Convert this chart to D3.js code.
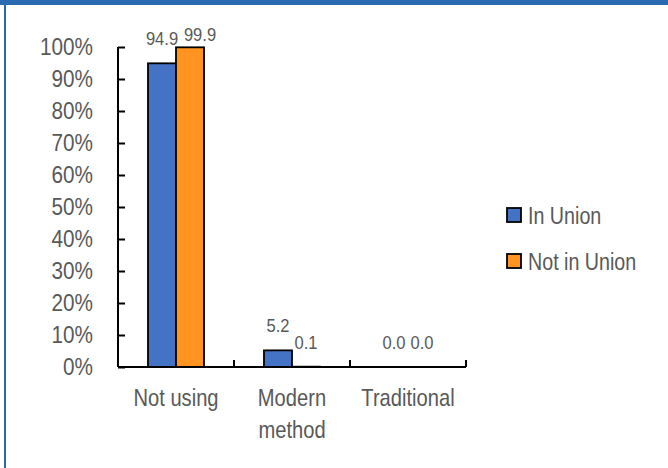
<!DOCTYPE html>
<html>
<head>
<meta charset="utf-8">
<script src="https://cdn.jsdelivr.net/npm/d3@7"></script>
<style>
  html, body { margin: 0; padding: 0; background: #fff; }
  svg { display: block; }
  text { font-family: "Liberation Sans", Arial, sans-serif; fill: #595959; }
</style>
</head>
<body>
<script>
const categories = [["Not using"], ["Modern", "method"], ["Traditional"]];
const categoryKeys = ["Not using", "Modern method", "Traditional"];
const seriesNames = ["In Union", "Not in Union"];
const inUnion = [94.9, 5.2, 0.0];
const notInUnion = [99.9, 0.1, 0.0];
const yTicks = [0, 10, 20, 30, 40, 50, 60, 70, 80, 90, 100];
const colors = ["#4472C4", "#FF9520"];

const W = 668, H = 468;
const svg = d3.select("body").append("svg").attr("width", W).attr("height", H);

// frame
svg.append("rect").attr("x", 0).attr("y", 0).attr("width", W).attr("height", H).attr("fill", "#fff");
svg.append("rect").attr("x", 0).attr("y", 0).attr("width", W).attr("height", 5).attr("fill", "#2A6AB0");
svg.append("rect").attr("x", 4).attr("y", 0).attr("width", 2).attr("height", H).attr("fill", "#2A6AB0");

const plot = { left: 118, right: 466, top: 47, bottom: 367 };

const x0 = d3.scaleBand().domain(categoryKeys).range([plot.left, plot.right]).paddingInner(0).paddingOuter(0);
const x1 = d3.scaleBand().domain(seriesNames).range([0, x0.bandwidth()]).paddingInner(0).paddingOuter(1.07);
const y = d3.scaleLinear().domain([0, 100]).range([plot.bottom, plot.top]);

const data = categoryKeys.map((c, i) => ({ key: c, values: [inUnion[i], notInUnion[i]] }));

// narrow text helper (horizontal compression of the font)
function narrow(sel, x, yy, sx) {
  return sel.attr("transform", `translate(${x},${yy}) scale(${sx},1)`);
}

// bars
const groups = svg.append("g").selectAll("g").data(data).join("g")
  .attr("transform", d => `translate(${x0(d.key)},0)`);
groups.selectAll("rect").data(d => d.values.map((v, j) => ({ v, s: seriesNames[j], j })))
  .join("rect")
  .attr("x", d => x1(d.s))
  .attr("y", d => y(d.v))
  .attr("width", x1.bandwidth())
  .attr("height", d => Math.max(0, y(0) - y(d.v)))
  .attr("fill", d => colors[d.j])
  .attr("stroke", "#000")
  .attr("stroke-width", 1.8);

// data labels
groups.selectAll("text.lbl").data(d => d.values.map((v, j) => ({ v, s: seriesNames[j], j })))
  .join("text").attr("class", "lbl")
  .attr("text-anchor", "middle")
  .attr("font-size", 18)
  .text(d => d.v.toFixed(1))
  .each(function(d) {
    let ty = y(d.v) - 18;
    let dx = 0;
    const limit = plot.top - 6.5;
    if (ty < limit) { ty = limit; dx = 10; }
    narrow(d3.select(this), x1(d.s) + x1.bandwidth() / 2 + dx, ty, 0.92);
  });

// y axis
const yAxis = d3.axisRight(y).tickValues(yTicks).tickSize(7).tickFormat("");
const yg = svg.append("g").attr("transform", `translate(${plot.left},0)`).call(yAxis);
yg.select(".domain").attr("stroke", "#000").attr("stroke-width", 2).attr("d", `M0,${plot.top}V${plot.bottom}`);
yg.selectAll(".tick line").attr("stroke", "#000").attr("stroke-width", 2);

svg.append("g").selectAll("text").data(yTicks).join("text")
  .attr("dy", "0.36em")
  .attr("text-anchor", "end")
  .attr("font-size", 23)
  .text(d => d + "%")
  .each(function(d) { narrow(d3.select(this), 93, y(d), 0.9); });

// x axis
const xAxis = d3.axisTop(x0).tickSize(0).tickFormat("");
const xg = svg.append("g").attr("transform", `translate(0,${plot.bottom})`).call(xAxis);
xg.select(".domain").attr("stroke", "#000").attr("stroke-width", 2).attr("d", `M${plot.left},0H${plot.right}`);
xg.selectAll(".tick").remove();
const boundaries = categoryKeys.map(c => x0(c) + x0.bandwidth());
xg.selectAll("line.bt").data(boundaries).join("line").attr("class", "bt")
  .attr("x1", d => d).attr("x2", d => d).attr("y1", 0).attr("y2", -7)
  .attr("stroke", "#000").attr("stroke-width", 2);

// category labels
svg.append("g").selectAll("text").data(categories.map((lines, i) => ({ lines, key: categoryKeys[i] })))
  .join("text")
  .attr("text-anchor", "middle")
  .attr("font-size", 24)
  .each(function(d) {
    const t = d3.select(this);
    narrow(t, x0(d.key) + x0.bandwidth() / 2, 406, 0.84);
    d.lines.forEach((ln, k) => {
      t.append("tspan").attr("x", 0).attr("y", k * 32).text(ln);
    });
  });

// legend
const lg = svg.append("g").selectAll("g").data(seriesNames).join("g")
  .attr("transform", (d, i) => `translate(507,${215 + i * 46})`);
lg.append("rect").attr("x", 0).attr("y", -7).attr("width", 14).attr("height", 14)
  .attr("fill", (d, i) => colors[i]).attr("stroke", "#000").attr("stroke-width", 1.8);
lg.append("text").attr("dy", "0.36em").attr("font-size", 24).text(d => d)
  .each(function() { narrow(d3.select(this), 21, 0, 0.82); });
</script>
</body>
</html>
